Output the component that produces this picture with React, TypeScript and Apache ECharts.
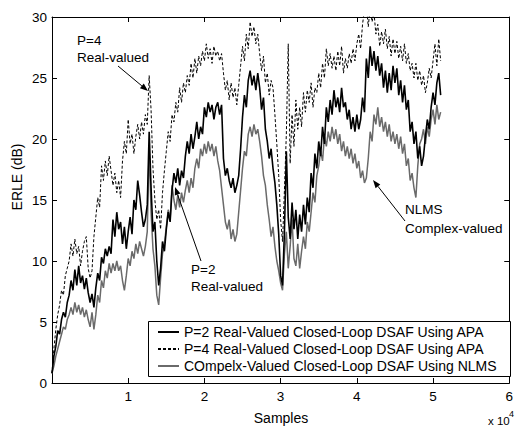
import React, { useEffect, useRef } from "react";
import * as echarts from "echarts";

// Sampling interval of the traces, in units of 10^4 samples
const SAMPLE_STEP = 0.025;

const xTicks = [0, 1, 2, 3, 4, 5, 6];
const yTicks = [0, 5, 10, 15, 20, 25, 30];

const seriesNames = [
  "P=2 Real-Valued Closed-Loop DSAF Using APA",
  "P=4 Real-Valued Closed-Loop DSAF Using APA",
  "COmpelx-Valued Closed-Loop DSAF Using NLMS",
];

// ERLE (dB) of P=2 real-valued DSAF (APA)
const p2Real = [
  0.8, 2.2, 3.0, 4.3, 4.0, 5.2, 5.8, 5.4, 6.6, 7.2,
  8.4, 7.6, 9.3, 8.0, 9.6, 8.2, 8.8, 7.7, 8.6, 7.4,
  6.6, 7.3, 6.2, 7.8, 9.0, 8.4, 10.3, 9.8, 11.0, 10.4,
  11.2, 10.6, 13.4, 12.0, 14.0, 12.6, 13.2, 11.4, 12.8, 11.0,
  12.4, 13.6, 12.2, 15.0, 14.2, 16.6, 15.4, 14.0, 12.8, 13.4,
  14.6, 20.6, 16.0, 12.4, 13.2, 10.0, 8.0, 9.4, 11.6, 10.8,
  12.6, 14.0, 13.2, 15.8, 17.2, 16.4, 17.6, 16.2, 17.4, 16.8,
  18.6, 19.8, 18.8, 20.4, 19.2, 20.2, 21.4, 20.0, 21.0, 20.4,
  22.6, 21.8, 23.0, 22.2, 22.8, 21.6, 22.6, 23.0, 22.0, 22.8,
  18.4, 17.0, 17.6, 16.6, 16.0, 16.8, 15.6, 16.2, 17.0, 19.2,
  21.8, 23.6, 22.6, 24.8, 25.6, 24.4, 25.2, 24.0, 25.4, 24.2,
  22.4, 23.4, 20.8, 19.8, 18.4, 19.2, 17.6, 16.4, 14.6, 12.2,
  8.8, 8.0, 12.4, 19.0, 13.6, 11.8, 14.8, 12.6, 14.2, 11.8,
  13.8, 12.4, 14.6, 13.0, 15.2, 14.0, 17.2, 16.0, 18.8, 17.6,
  19.8, 18.6, 21.0, 19.6, 22.6, 21.4, 23.2, 22.0, 24.0, 22.6,
  23.4, 22.2, 24.2, 22.6, 23.0, 21.6, 22.4, 20.8, 21.8, 20.6,
  22.0, 20.8, 21.6, 23.4, 22.2, 26.6, 25.0, 27.6, 26.0, 27.2,
  25.6, 26.8, 25.2, 26.2, 24.2, 25.6, 23.8, 25.4, 24.0, 26.0,
  24.6, 25.8, 23.6, 24.8, 23.0, 24.4, 22.4, 23.2, 20.6, 21.4,
  19.6, 20.6, 18.4, 19.4, 17.8, 18.6, 20.2, 21.6, 20.8, 22.6,
  23.8, 22.8, 24.6, 25.4, 23.6,
];

// ERLE (dB) of P=4 real-valued DSAF (APA)
const p4Real = [
  0.8, 2.8, 4.4, 5.6, 6.4, 7.6, 7.2, 8.8, 9.4, 10.0,
  11.4, 10.4, 11.8, 10.6, 11.2, 9.6, 10.8, 11.6, 12.0, 9.4,
  8.6, 9.2, 12.0, 13.6, 15.2, 14.4, 17.8, 16.6, 18.2, 17.0,
  18.6, 17.4, 16.2, 17.2, 15.6, 16.6, 15.2, 18.2, 19.8, 18.8,
  21.6, 19.6, 20.4, 18.8, 20.2, 21.2, 20.0, 21.4, 20.4, 22.0,
  21.2, 25.2, 22.4, 17.6, 15.0, 13.4, 14.2, 12.6, 15.6, 17.4,
  19.0, 20.6, 19.8, 22.0, 21.4, 23.0, 22.2, 24.2, 23.0, 24.6,
  23.8, 25.2, 24.4, 26.2, 25.0, 26.6, 25.4, 26.8, 26.0, 27.2,
  26.4, 27.8, 26.6, 27.4, 26.2, 27.6, 26.8, 27.2, 26.4, 27.0,
  25.4, 24.0, 24.8, 23.2, 24.6, 23.4, 24.2, 22.8, 24.4, 26.0,
  27.6, 26.4, 28.6, 27.4, 29.6, 28.4, 29.2, 27.8, 28.6, 27.0,
  25.6, 26.8, 24.6, 25.4, 23.6, 24.8, 24.2, 22.0, 19.6, 17.0,
  13.4, 11.6, 15.8, 20.4, 27.8, 18.0, 22.0, 19.4, 23.2, 20.8,
  22.6, 21.0, 23.8, 22.2, 24.0, 23.0, 24.6, 22.6, 24.2, 23.8,
  25.4, 24.2, 26.2, 25.0, 27.4, 26.0, 27.0, 25.8, 26.8, 25.6,
  27.2, 26.0, 27.6, 25.4, 26.6, 25.8, 27.0, 26.2, 27.4, 26.4,
  27.8, 28.6, 27.4, 29.4, 30.6, 31.0, 29.2, 30.8, 29.6, 30.4,
  28.6, 29.4, 27.6, 28.8, 27.8, 29.0, 27.4, 28.4, 26.8, 28.2,
  27.0, 28.0, 26.6, 27.6, 26.4, 27.8, 26.2, 27.0, 25.6, 26.2,
  25.0, 26.2, 24.8, 25.6, 24.4, 25.2, 23.8, 24.6, 25.8, 25.0,
  26.4, 27.8, 26.0, 28.2, 26.4,
];

// ERLE (dB) of complex-valued DSAF (NLMS)
const complexNlms = [
  0.8, 1.4, 2.2, 2.8, 3.4, 4.0, 4.6, 4.4, 5.2, 5.6,
  6.2, 5.6, 6.6, 5.8, 6.4, 5.6, 6.2, 5.4, 6.0, 5.2,
  4.6, 5.8, 4.4, 5.6, 7.2, 6.6, 8.4, 7.8, 9.2, 8.6,
  9.8, 9.0, 9.8, 9.2, 10.0, 9.2, 9.6, 8.4, 7.6, 8.8,
  10.2, 9.6, 10.8, 10.2, 11.4, 10.6, 11.6, 11.0, 10.4, 11.2,
  12.4, 19.4, 14.0, 11.0, 9.6, 7.2, 6.4, 8.6, 10.6, 11.4,
  12.8, 14.2, 13.4, 16.2, 15.0, 14.2, 15.4, 14.4, 15.6, 14.8,
  15.8, 16.6, 15.6, 16.8, 16.0, 17.6, 18.4, 17.6, 19.2, 18.6,
  19.6, 18.8, 19.8, 19.0, 19.6, 18.6, 19.4, 18.2, 17.4, 16.0,
  14.6, 13.2, 12.6, 13.4, 11.8, 12.6, 11.6, 12.2, 14.0, 15.8,
  17.6, 19.0, 18.6, 20.4, 21.0, 20.2, 21.2, 20.4, 20.8, 19.8,
  18.6, 17.0, 16.2, 14.6, 13.4, 12.0, 12.8, 11.2, 10.0, 9.2,
  8.2, 7.6, 10.6, 12.4, 9.4, 11.2, 13.4, 10.2, 9.6, 11.4,
  9.4, 10.8, 12.0, 11.0, 13.2, 12.4, 14.0, 15.6, 14.8, 17.0,
  17.8, 19.0, 18.2, 20.2, 19.4, 20.6, 19.8, 21.0, 20.0, 20.8,
  19.6, 20.4, 19.0, 19.8, 18.6, 19.4, 18.4, 19.2, 18.0, 18.8,
  17.6, 18.2, 16.8, 17.4, 16.4, 16.8, 18.4, 20.6, 19.8, 22.0,
  21.2, 22.6, 21.0, 21.8, 20.6, 21.4, 20.2, 21.2, 19.8, 20.6,
  19.6, 20.4, 19.2, 20.2, 18.8, 19.6, 17.8, 18.4, 16.6, 17.2,
  16.0, 15.2, 17.8, 19.6, 20.0, 20.8, 19.6, 21.0, 20.2, 21.6,
  22.4, 21.2, 22.8, 21.6, 22.2,
];

const FONT = "Liberation Sans, Arial, sans-serif";

function toPairs(vals: number[]) {
  return vals.map((v, i) => [+(i * SAMPLE_STEP).toFixed(3), v]);
}

function arrow(x1: number, y1: number, x2: number, y2: number) {
  const dx = x2 - x1;
  const dy = y2 - y1;
  const len = Math.sqrt(dx * dx + dy * dy);
  const ux = dx / len;
  const uy = dy / len;
  const bx = x2 - ux * 8;
  const by = y2 - uy * 8;
  const nx = -uy;
  const ny = ux;
  return [
    {
      type: "line",
      z: 20,
      shape: { x1, y1, x2: bx, y2: by },
      style: { stroke: "#000", lineWidth: 1 },
    },
    {
      type: "polygon",
      z: 20,
      shape: {
        points: [
          [x2, y2],
          [bx + nx * 3, by + ny * 3],
          [bx - nx * 3, by - ny * 3],
        ],
      },
      style: { fill: "#000" },
    },
  ];
}

function label(text: string, x: number, y: number, size = 13.5) {
  return {
    type: "text",
    z: 20,
    x,
    y,
    style: {
      text,
      fill: "#000",
      font: `${size}px ${FONT}`,
      textAlign: "left",
      textVerticalAlign: "middle",
    },
  };
}

export default function App() {
  const ref = useRef<HTMLDivElement>(null);

  useEffect(() => {
    if (!ref.current) return;
    const chart = echarts.init(ref.current, undefined, { renderer: "svg" });

    const axisCommon = {
      axisLine: { show: true, onZero: false, lineStyle: { color: "#000", width: 1 } },
      axisTick: { show: true, inside: true, length: 5, lineStyle: { color: "#000" } },
      splitLine: { show: false },
    };

    chart.setOption({
      animation: false,
      backgroundColor: "#fff",
      grid: { left: 52, right: 1, top: 17, bottom: 45, containLabel: false },
      xAxis: [
        {
          type: "value",
          min: xTicks[0],
          max: xTicks[xTicks.length - 1],
          interval: 1,
          position: "bottom",
          ...axisCommon,
          axisLabel: {
            color: "#000",
            fontSize: 13.5,
            fontFamily: FONT,
            margin: 6,
            showMaxLabel: true,
            formatter: (v: number) => (v === 0 ? "" : String(v)),
          },
        },
        {
          type: "value",
          min: xTicks[0],
          max: xTicks[xTicks.length - 1],
          interval: 1,
          position: "top",
          ...axisCommon,
          axisLabel: { show: false },
        },
      ],
      yAxis: [
        {
          type: "value",
          min: yTicks[0],
          max: yTicks[yTicks.length - 1],
          interval: 5,
          position: "left",
          ...axisCommon,
          axisLabel: { color: "#000", fontSize: 13.5, fontFamily: FONT, margin: 5 },
        },
        {
          type: "value",
          min: yTicks[0],
          max: yTicks[yTicks.length - 1],
          interval: 5,
          position: "right",
          ...axisCommon,
          axisLabel: { show: false },
        },
      ],
      legend: {
        data: seriesNames,
        orient: "vertical",
        left: 157,
        top: 325,
        padding: 0,
        itemWidth: 21,
        itemHeight: 14,
        itemGap: 3,
        z: 30,
        itemStyle: { opacity: 0 },
        textStyle: { color: "#000", fontSize: 14, fontFamily: FONT },
      },
      series: [
        {
          name: seriesNames[2],
          type: "line",
          data: toPairs(complexNlms),
          symbol: "none",
          clip: true,
          lineStyle: { color: "#6a6a6a", width: 1.5 },
          itemStyle: { color: "#6a6a6a" },
          z: 2,
        },
        {
          name: seriesNames[1],
          type: "line",
          data: toPairs(p4Real),
          symbol: "none",
          clip: true,
          lineStyle: { color: "#000", width: 1, type: [3, 2] },
          itemStyle: { color: "#000" },
          z: 3,
        },
        {
          name: seriesNames[0],
          type: "line",
          data: toPairs(p2Real),
          symbol: "none",
          clip: true,
          lineStyle: { color: "#000", width: 1.6 },
          itemStyle: { color: "#000" },
          z: 4,
        },
      ],
      graphic: [
        {
          type: "rect",
          z: 10,
          shape: { x: 148.5, y: 321.5, width: 362, height: 55 },
          style: { fill: "#fff", stroke: "#000", lineWidth: 1 },
        },
        {
          type: "text",
          z: 20,
          x: 17,
          y: 177,
          rotation: Math.PI / 2,
          style: {
            text: "ERLE (dB)",
            fill: "#000",
            font: `14px ${FONT}`,
            textAlign: "center",
            textVerticalAlign: "middle",
          },
        },
        {
          type: "text",
          z: 20,
          x: 281,
          y: 418,
          style: {
            text: "Samples",
            fill: "#000",
            font: `14px ${FONT}`,
            textAlign: "center",
            textVerticalAlign: "middle",
          },
        },
        label("x 10", 488, 421, 11.5),
        label("4", 509, 414, 9),
        label("P=4", 77, 40),
        label("Real-valued", 77, 57),
        ...arrow(118, 66, 148, 91),
        label("P=2", 191, 269),
        label("Real-valued", 191, 286),
        ...arrow(201, 261, 175, 187),
        label("NLMS", 405, 209),
        label("Complex-valued", 405, 228),
        ...arrow(405, 221, 373, 180),
      ],
    });

    return () => chart.dispose();
  }, []);

  return (
    <div
      ref={ref}
      style={{ position: "fixed", left: 0, top: 0, width: 516, height: 428 }}
    />
  );
}
